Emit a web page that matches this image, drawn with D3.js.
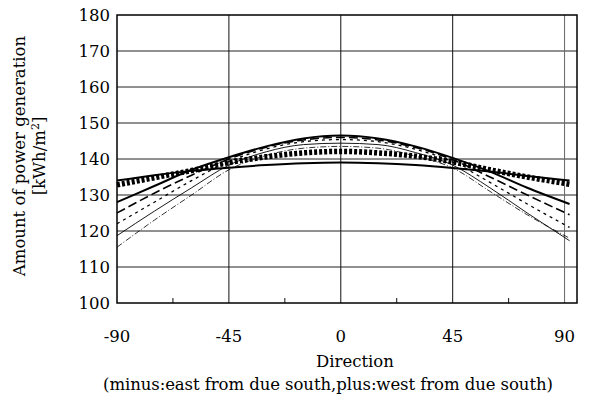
<!DOCTYPE html>
<html>
<head>
<meta charset="utf-8">
<script src="https://cdn.jsdelivr.net/npm/d3@7"></script>
<style>
  body { margin: 0; background: #fff; }
  text { font-family: "DejaVu Serif", "Liberation Serif", serif; fill: #000; }
</style>
</head>
<body>
<div class="chart"></div>
<script>
var svgWidth = 598;
var svgHeight = 400;

var margin = { top: 15, right: 21, bottom: 97, left: 117 };
var width = svgWidth - margin.left - margin.right;
var height = svgHeight - margin.top - margin.bottom;

// direction (deg) and generation for each tilt curve
var directions = [-90, -75, -60, -45, -30, -15, 0, 15, 30, 45, 60, 75, 92];
var flatSolid  = [134, 135.5, 136.7, 137.6, 138.3, 138.8, 139, 138.8, 138.3, 137.5, 136.5, 135.3, 134];
var checker    = [132.8, 134.8, 136.8, 139, 140.6, 141.7, 142.1, 141.7, 140.8, 139.2, 137, 135, 133];
var thickSolid = [128, 132.5, 137, 140.5, 143.5, 145.7, 146.5, 145.7, 143.5, 140.3, 136.5, 132, 127.5];
var longDash   = [125, 130.5, 135.5, 140, 143.3, 145.3, 146, 145.3, 143.2, 139.8, 135, 130, 124.5];
var shortDash  = [122, 128, 134, 139.3, 142.8, 144.8, 145.4, 144.8, 142.7, 139.2, 133.5, 127.5, 121];
var thinSolid  = [118.7, 125.5, 132, 138.3, 142, 144, 144.4, 144, 141.8, 138.3, 132, 125, 117.3];
var dashDot    = [115.5, 123, 130, 137, 141, 143, 143.5, 143, 140.8, 137.5, 131, 124.5, 118];

var xTicks = [-90, -45, 0, 45, 90];
var xMinor = [-67.5, -22.5, 22.5, 67.5];
var yTicks = [100, 110, 120, 130, 140, 150, 160, 170, 180];

var series = [
  { values: thinSolid, width: 0.9, dash: null },
  { values: dashDot, width: 0.8, dash: "6,2,1,2" },
  { values: shortDash, width: 1.3, dash: "3,4" },
  { values: longDash, width: 1.6, dash: "9,4" },
  { values: thickSolid, width: 2, dash: null },
  { values: checker, width: 5.5, dash: "3,2" },
  { values: flatSolid, width: 2, dash: null }
];

var svg = d3.select(".chart").append("svg")
  .attr("width", svgWidth)
  .attr("height", svgHeight);

var chartGroup = svg.append("g")
  .attr("transform", `translate(${margin.left}, ${margin.top})`);

var xScale = d3.scaleLinear().domain([-90, 95]).range([0, width]);
var yScale = d3.scaleLinear().domain([100, 180]).range([height, 0]);

// grid lines
chartGroup.append("g").selectAll("line")
  .data(yTicks.slice(1, -1))
  .enter().append("line")
  .attr("x1", 0).attr("x2", width)
  .attr("y1", d => yScale(d)).attr("y2", d => yScale(d))
  .attr("stroke", "#222").attr("stroke-width", 1);

chartGroup.append("g").selectAll("line")
  .data(xTicks.slice(1))
  .enter().append("line")
  .attr("x1", d => xScale(d)).attr("x2", d => xScale(d))
  .attr("y1", 0).attr("y2", height)
  .attr("stroke", d => d === 90 ? "#666" : "#111").attr("stroke-width", 1);

// minor ticks along the bottom
chartGroup.append("g").selectAll("line")
  .data(xMinor)
  .enter().append("line")
  .attr("x1", d => xScale(d)).attr("x2", d => xScale(d))
  .attr("y1", height - 5).attr("y2", height)
  .attr("stroke", "#111").attr("stroke-width", 1);

// curves
var line = d3.line()
  .x((d, i) => xScale(directions[i]))
  .y(d => yScale(d))
  .curve(d3.curveMonotoneX);

chartGroup.selectAll(".series")
  .data(series)
  .enter().append("path")
  .attr("class", "series")
  .attr("d", d => line(d.values))
  .attr("fill", "none")
  .attr("stroke", "#000")
  .attr("stroke-width", d => d.width)
  .attr("stroke-dasharray", d => d.dash);

// frame
chartGroup.append("rect")
  .attr("width", width).attr("height", height)
  .attr("fill", "none").attr("stroke", "#000").attr("stroke-width", 1.5);

// tick labels
chartGroup.append("g").selectAll("text")
  .data(yTicks)
  .enter().append("text")
  .attr("x", -7).attr("y", d => yScale(d))
  .attr("dy", "0.35em")
  .attr("text-anchor", "end")
  .attr("font-size", 16.5)
  .text(d => d);

chartGroup.append("g").selectAll("text")
  .data(xTicks)
  .enter().append("text")
  .attr("x", d => xScale(d)).attr("y", height + 39)
  .attr("text-anchor", "middle")
  .attr("font-size", 16.5)
  .text(d => d);

// axis titles
chartGroup.append("text")
  .attr("x", width / 2 + 8).attr("y", height + 64)
  .attr("text-anchor", "middle")
  .attr("font-size", 16.5)
  .text("Direction");

chartGroup.append("text")
  .attr("x", 211).attr("y", height + 87)
  .attr("text-anchor", "middle")
  .attr("font-size", 16.5)
  .attr("textLength", 450)
  .text("(minus:east from due south,plus:west from due south)");

var yTitle = svg.append("text")
  .attr("transform", `translate(25, ${margin.top + height / 2 - 3}) rotate(-90)`)
  .attr("text-anchor", "middle")
  .attr("font-size", 16.5);
yTitle.append("tspan").attr("x", 0).attr("dy", 0).text("Amount of power generation");
yTitle.append("tspan").attr("x", 0).attr("dy", 20).text("[kWh/m")
  .append("tspan").attr("dy", -6).attr("font-size", 11).text("2");
yTitle.append("tspan").attr("dy", 6).text("]");
</script>
</body>
</html>
